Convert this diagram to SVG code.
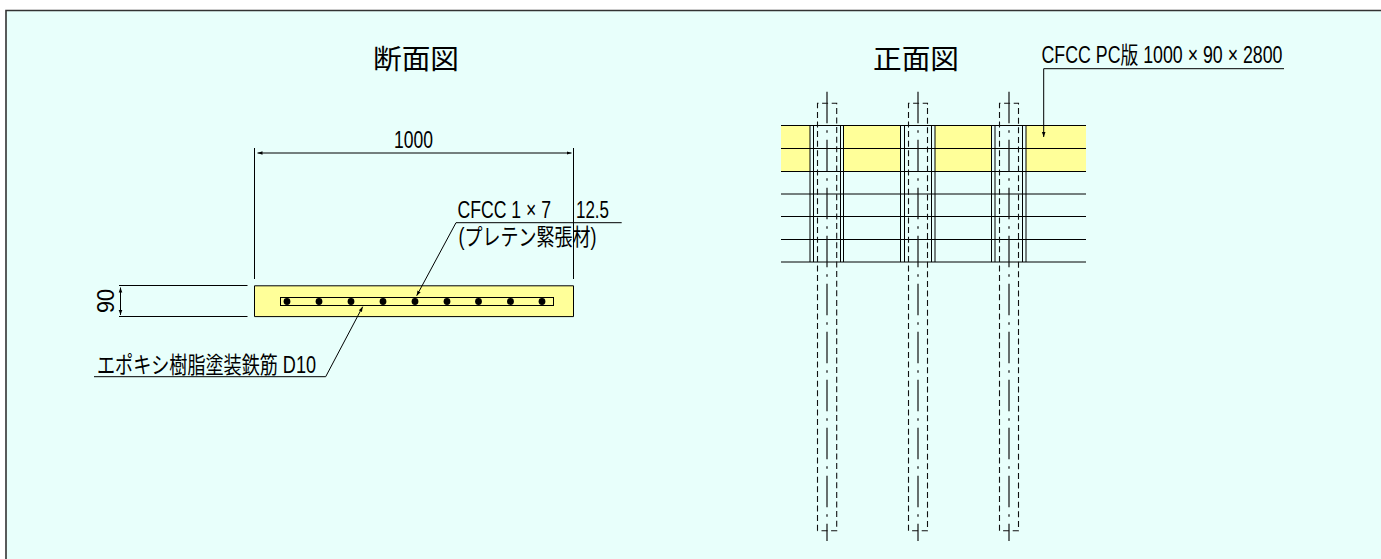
<svg xmlns="http://www.w3.org/2000/svg" width="1381" height="559" viewBox="0 0 1381 559">
<style>
text{font-family:"Liberation Sans","Noto Sans CJK JP",sans-serif;fill:#000}
.t{font-size:23px}
.h{font-size:27px}
.l{stroke:#000;stroke-width:1;fill:none}
.c{stroke:#111;stroke-width:1.2;fill:none;stroke-dasharray:31.5 7 2.5 7}
.d{stroke:#111;stroke-width:1.1;fill:none;stroke-dasharray:6 3.6}
.y{fill:#ffff99}
.b{fill:#e8fffb}
</style>
<defs>
<marker id="a" markerUnits="userSpaceOnUse" markerWidth="6" markerHeight="5" refX="5" refY="2.5" orient="auto"><path d="M0 .7L5 2.5L0 4.3Z" fill="#000"/></marker>
<marker id="as" markerUnits="userSpaceOnUse" markerWidth="6" markerHeight="5" refX="5" refY="2.5" orient="auto-start-reverse"><path d="M0 .7L5 2.5L0 4.3Z" fill="#000"/></marker>
</defs>
<rect width="1381" height="559" fill="#fff"/>
<rect x="5.5" y="10.5" width="1376" height="549" class="b"/>
<path d="M6 559V10.5H1381" stroke="#333" stroke-width="1.6" fill="none"/>

<g id="section">
<text class="h" x="373" y="69" textLength="86" lengthAdjust="spacingAndGlyphs">断面図</text>
<rect class="y" x="254.5" y="286" width="319" height="31"/>
<path class="l" d="M254.5 285.8H573.5V316.6H254.5Z"/>
<rect class="l" x="280.5" y="297.5" width="273" height="8"/>
<g id="bars" fill="#000">
<circle cx="287" cy="301.5" r="3.4"/><circle cx="319" cy="301.5" r="3.4"/><circle cx="351" cy="301.5" r="3.4"/>
<circle cx="383" cy="301.5" r="3.4"/><circle cx="415" cy="301.5" r="3.4"/><circle cx="447" cy="301.5" r="3.4"/>
<circle cx="478.5" cy="301.5" r="3.4"/><circle cx="510.5" cy="301.5" r="3.4"/><circle cx="542" cy="301.5" r="3.4"/>
</g>
</g>

<g id="front">
<text class="h" x="873" y="69" textLength="86" lengthAdjust="spacingAndGlyphs">正面図</text>
<rect class="y" x="781" y="125.5" width="305" height="46"/>
<rect class="b" x="810" y="125.5" width="34" height="46"/>
<rect class="b" x="900.5" y="125.5" width="34.5" height="46"/>
<rect class="b" x="991.5" y="125.5" width="34.5" height="46"/>
<path class="l" d="M781 125.5H1086M781 148.5H1086M781 171.5H1086M781 194H1086M781 216.5H1086M781 239.5H1086M781 262H1086"/>
</g>

<g id="pile1">
<path class="l" d="M810 125.5V262M813.5 125.5V262M840.5 125.5V262M843.5 125.5V262"/>
<path class="d" d="M817.5 530.7V103.3H836.7V530.7H817.5"/>
<path class="c" d="M827 91.7V541"/>
</g>
<g id="pile2">
<path class="l" d="M900.5 125.5V262M904.5 125.5V262M931.5 125.5V262M935 125.5V262"/>
<path class="d" d="M908.5 530.7V103.3H927.5V530.7H908.5"/>
<path class="c" d="M918 91.7V541"/>
</g>
<g id="pile3">
<path class="l" d="M991.5 125.5V262M995 125.5V262M1022.5 125.5V262M1026 125.5V262"/>
<path class="d" d="M999.5 530.7V103.3H1018.5V530.7H999.5"/>
<path class="c" d="M1009 91.7V541"/>
</g>

<g id="connectors">
<path class="l" d="M254.5 148V279M573.5 148V279"/>
<path class="l" marker-start="url(#as)" marker-end="url(#a)" d="M257.5 153H571.5"/>
<path class="l" d="M119 285.5H247.5M119 316.5H247.5"/>
<path class="l" marker-start="url(#as)" marker-end="url(#a)" d="M120.5 287.5V315"/>
<path class="l" marker-end="url(#a)" d="M94 376.7H325.7L362.7 306.7"/>
<path class="l" marker-end="url(#a)" d="M621.7 222.7H456L416.7 295.7"/>
<path class="l" marker-end="url(#a)" d="M1284 68.7H1043.7V137"/>
</g>

<g id="labels">
<text class="t" x="394" y="147.5" textLength="39" lengthAdjust="spacingAndGlyphs">1000</text>
<text class="t" transform="translate(114 313) rotate(-90)" textLength="24" lengthAdjust="spacingAndGlyphs">90</text>
<text class="t" x="97" y="372.5" textLength="219" lengthAdjust="spacingAndGlyphs">エポキシ樹脂塗装鉄筋 D10</text>
<text class="t" x="457.5" y="218" textLength="93.5" lengthAdjust="spacingAndGlyphs">CFCC 1 × 7</text>
<text class="t" x="576" y="218" textLength="33" lengthAdjust="spacingAndGlyphs">12.5</text>
<text class="t" x="458.5" y="245" textLength="138" lengthAdjust="spacingAndGlyphs">(プレテン緊張材)</text>
<text class="t" x="1041.5" y="63" textLength="241" lengthAdjust="spacingAndGlyphs">CFCC PC版 1000 × 90 × 2800</text>
</g>
</svg>
